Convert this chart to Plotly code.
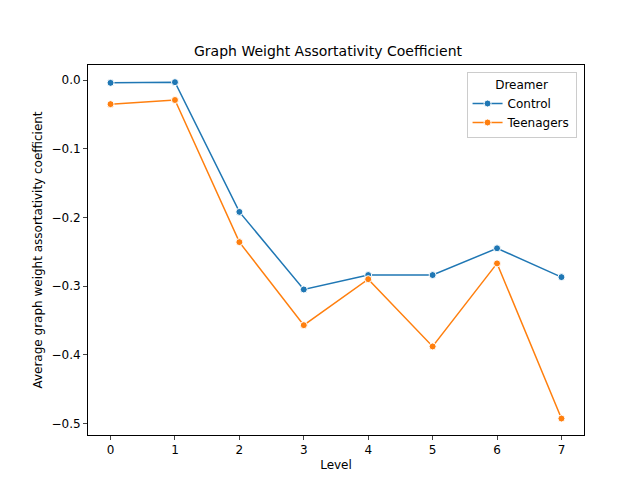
import plotly.graph_objects as go

levels = [0, 1, 2, 3, 4, 5, 6, 7]
control = [-0.004, -0.003, -0.192, -0.305, -0.284, -0.284, -0.245, -0.287]
teenagers = [-0.035, -0.029, -0.236, -0.357, -0.290, -0.388, -0.267, -0.493]

fig = go.Figure()
for name, vals, col in [("Control", control, "#1f77b4"), ("Teenagers", teenagers, "#ff7f0e")]:
    fig.add_trace(go.Scatter(x=levels, y=vals, mode="lines+markers", name=name,
                             line=dict(color=col, width=1.5),
                             marker=dict(color=col, size=7, line=dict(color="white", width=1))))

axis_common = dict(showgrid=False, zeroline=False, showline=True, mirror=True,
                   linecolor="black", linewidth=1, ticks="outside", ticklen=4,
                   automargin=False, tickfont=dict(size=12, color="black"))
fig.update_layout(
    width=640, height=480,
    paper_bgcolor="white", plot_bgcolor="white",
    font=dict(family="DejaVu Sans", color="black"),
    margin=dict(l=80, r=64, t=57, b=53),
    title=dict(text="Graph Weight Assortativity Coefficient", x=0.5, xanchor="center",
               y=0.91, yanchor="middle", font=dict(size=14)),
    xaxis=dict(range=[-0.35, 7.35], tickvals=levels,
               title=dict(text="Level", font=dict(size=12), standoff=4), **axis_common),
    yaxis=dict(range=[-0.517, 0.022], tickvals=[0.0, -0.1, -0.2, -0.3, -0.4, -0.5],
               ticktext=["0.0", "−0.1", "−0.2", "−0.3", "−0.4", "−0.5"],
               title=dict(text="Average graph weight assortativity coefficient", font=dict(size=12), standoff=6),
               **axis_common),
    legend=dict(title=dict(text="Dreamer", side="top center", font=dict(size=12)),
                x=0.985, y=0.98, xanchor="right", yanchor="top",
                bordercolor="#cccccc", borderwidth=1, bgcolor="rgba(255,255,255,0.8)",
                font=dict(size=12)),
)
fig.write_html("out.html")
